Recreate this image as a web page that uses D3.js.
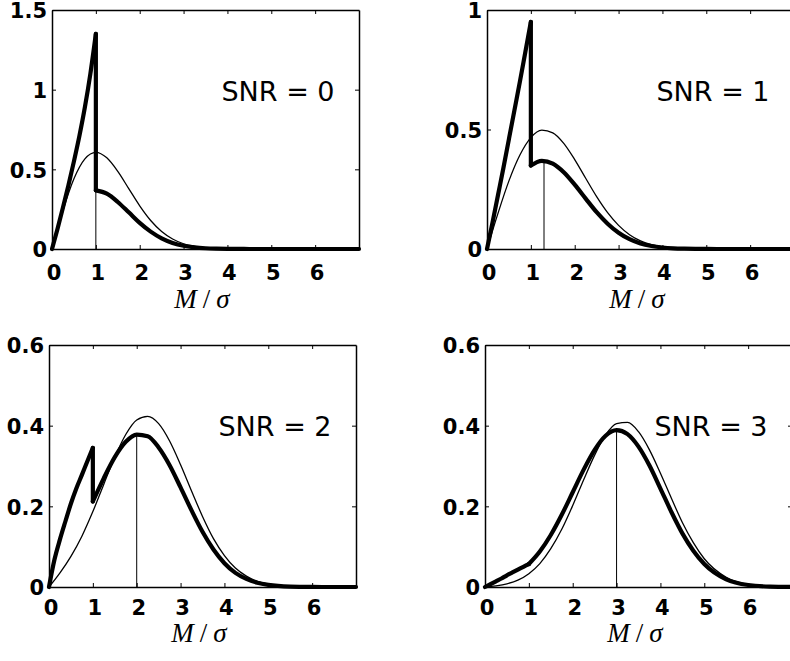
<!DOCTYPE html>
<html>
<head>
<meta charset="utf-8">
<script src="https://cdn.jsdelivr.net/npm/d3@7"></script>
<style>
  body { margin: 0; background: #fff; }
  .tick text { font-family: "DejaVu Sans"; font-weight: bold; font-size: 21px; fill: #000; }
  .domain { stroke: #000; stroke-width: 1.5; }
  .tick line { stroke: #000; stroke-width: 1; }
</style>
</head>
<body>
<svg id="chart" width="790" height="661"></svg>
<script>
// M/sigma sample points
const grid = [0, 0.25, 0.5, 0.75, 1, 1.25, 1.5, 1.75, 2, 2.25, 2.5, 2.75, 3, 3.25, 3.5, 3.75,
              4, 4.25, 4.5, 4.75, 5, 5.5, 6, 6.5, 7];
const gridLeft = [0, 0.125, 0.25, 0.375, 0.5, 0.625, 0.75, 0.875, 1];
const gridRight = [1, 1.25, 1.5, 1.75, 2, 2.25, 2.5, 2.75, 3, 3.25, 3.5, 3.75,
                   4, 4.25, 4.5, 4.75, 5, 5.5, 6, 6.5, 7];

const snr = [0, 1, 2, 3];

// thin curves, read on grid
const thin0 = [0, 0.242, 0.441, 0.566, 0.607, 0.572, 0.487, 0.379, 0.271, 0.179, 0.110, 0.063, 0.033,
               0.017, 0.0077, 0.0033, 0.0013, 0.0005, 0.0002, 0.0001, 0, 0, 0, 0, 0];
const thin1 = [0, 0.149, 0.285, 0.393, 0.466, 0.497, 0.486, 0.442, 0.374, 0.296, 0.219, 0.152, 0.099,
               0.060, 0.034, 0.018, 0.0092, 0.0043, 0.0019, 0.0008, 0.0003, 0, 0, 0, 0];
const thin2 = [0, 0.035, 0.076, 0.126, 0.187, 0.255, 0.322, 0.378, 0.414, 0.423, 0.405, 0.362, 0.303,
               0.238, 0.175, 0.120, 0.078, 0.047, 0.027, 0.014, 0.0071, 0.0015, 0.0002, 0, 0];
const thin3 = [0, 0.003, 0.008, 0.017, 0.033, 0.058, 0.095, 0.143, 0.202, 0.266, 0.327, 0.377, 0.405,
               0.408, 0.385, 0.340, 0.282, 0.220, 0.160, 0.110, 0.070, 0.024, 0.0063, 0.0013, 0.0002];

// thick curves: part below M=1 (on gridLeft) and part from M=1 on (gridRight)
const thickLeft0 = [0, 0.125, 0.26, 0.40, 0.55, 0.71, 0.89, 1.1, 1.35];
const thickLeft1 = [0, 0.11, 0.225, 0.34, 0.46, 0.58, 0.70, 0.825, 0.95];
const thickLeft2 = [0, 0.068, 0.118, 0.163, 0.207, 0.245, 0.278, 0.312, 0.345];
const thickLeft3 = [0, 0.007, 0.014, 0.021, 0.029, 0.036, 0.043, 0.05, 0.057];

const thickRight0 = [0.368, 0.347, 0.295, 0.230, 0.164, 0.109, 0.067, 0.038, 0.020, 0.010, 0.0046, 0.002,
                     0.0008, 0.0003, 0.0001, 0, 0, 0, 0, 0, 0];
const thickRight1 = [0.349, 0.369, 0.357, 0.321, 0.269, 0.211, 0.154, 0.106, 0.068, 0.041, 0.023, 0.0126,
                     0.0064, 0.003, 0.0014, 0.0006, 0.0002, 0, 0, 0, 0];
const thickRight2 = [0.212, 0.270, 0.322, 0.360, 0.378, 0.374, 0.346, 0.302, 0.247, 0.190, 0.137, 0.093,
                     0.059, 0.035, 0.020, 0.0105, 0.0052, 0.001, 0.0002, 0, 0];
const thickRight3 = [0.057, 0.088, 0.129, 0.179, 0.235, 0.291, 0.340, 0.375, 0.389, 0.379, 0.348, 0.301,
                     0.244, 0.186, 0.133, 0.090, 0.057, 0.019, 0.0049, 0.001, 0.0002];

// thin vertical marker: position and height
const markerM = [1, 1.3, 2, 3];
const markerTop = [0.368, 0.369, 0.378, 0.389];

const yMax = [1.5, 1, 0.6, 0.6];
const yTicks = [[0, 0.5, 1, 1.5], [0, 0.5, 1], [0, 0.2, 0.4, 0.6], [0, 0.2, 0.4, 0.6]];
const xTicks = [0, 1, 2, 3, 4, 5, 6];

const thin = [thin0, thin1, thin2, thin3];
const thickLeft = [thickLeft0, thickLeft1, thickLeft2, thickLeft3];
const thickRight = [thickRight0, thickRight1, thickRight2, thickRight3];

// panel boxes in pixels
const panelLeft = [52, 487, 49, 485];
const panelTop = [10, 10, 345, 345];
const panelBottom = [249, 249, 587, 587];
const panelWidth = 307;

const svg = d3.select("#chart");

function panel(i) {
    const left = panelLeft[i], top = panelTop[i], bottom = panelBottom[i];
    const right = left + panelWidth;
    const bottomRow = i > 1;

    let xScale = d3.scaleLinear().domain([0, 7]).range([left, right]);
    let yScale = d3.scaleLinear().domain([0, yMax[i]]).range([bottom, top]);

    const g = svg.append("g");

    // smooth line for curves, straight one for the jump and marker
    const smooth = d3.line().x(d => xScale(d[0])).y(d => yScale(d[1])).curve(d3.curveMonotoneX);
    const straight = d3.line().x(d => xScale(d[0])).y(d => yScale(d[1]));

    // frame + inward ticks on all four sides
    g.append("g")
        .attr("transform", `translate(0,${bottom})`)
        .call(d3.axisBottom(xScale).tickValues(xTicks).tickSize(-4).tickSizeOuter(0)
            .tickPadding(bottomRow ? 13 : 16).tickFormat(d => String(d)))
        .selectAll(".tick text").attr("dx", 1.5);
    g.append("g")
        .attr("transform", `translate(0,${top})`)
        .call(d3.axisTop(xScale).tickValues(xTicks).tickSize(-4).tickSizeOuter(0).tickFormat(""));
    g.append("g")
        .attr("transform", `translate(${left},0)`)
        .call(d3.axisLeft(yScale).tickValues(yTicks[i]).tickSize(-4).tickSizeOuter(0)
            .tickPadding(5).tickFormat(d => String(d)))
        .selectAll(".tick text").attr("dy", "0.38em");
    g.append("g")
        .attr("transform", `translate(${right},0)`)
        .call(d3.axisRight(yScale).tickValues(yTicks[i]).tickSize(-4).tickSizeOuter(0).tickFormat(""));

    // thin curve
    g.append("path")
        .datum(d3.zip(grid, thin[i]))
        .attr("d", smooth)
        .attr("fill", "none").attr("stroke", "#000").attr("stroke-width", 1.3);

    // vertical marker
    g.append("path")
        .datum([[markerM[i], 0], [markerM[i], markerTop[i]]])
        .attr("d", straight)
        .attr("fill", "none").attr("stroke", "#000").attr("stroke-width", 1);

    // thick curve in three pieces
    const l = d3.zip(gridLeft, thickLeft[i]);
    const r = d3.zip(gridRight, thickRight[i]);
    [[l, smooth], [[l[l.length - 1], r[0]], straight], [r, smooth]].forEach(([pts, gen]) => {
        g.append("path")
            .datum(pts)
            .attr("d", gen)
            .attr("fill", "none").attr("stroke", "#000")
            .attr("stroke-width", 4.2)
            .attr("stroke-linejoin", "round").attr("stroke-linecap", "round");
    });

    // SNR label
    g.append("text")
        .attr("x", left + 226).attr("y", top + 91)
        .attr("text-anchor", "middle")
        .style("font-family", "DejaVu Sans").style("font-size", "27px")
        .text(`SNR = ${snr[i]}`);

    // x label M/sigma
    const lab = g.append("text")
        .attr("x", left + 150).attr("y", bottom + (bottomRow ? 55 : 59))
        .attr("text-anchor", "middle")
        .style("font-family", "Liberation Serif").style("font-size", "27px");
    lab.append("tspan").style("font-style", "italic").text("M");
    lab.append("tspan").attr("dx", 6).text("/");
    lab.append("tspan").attr("dx", 6).style("font-style", "italic").text("σ");
}

snr.forEach((s, i) => panel(i));
</script>
</body>
</html>
